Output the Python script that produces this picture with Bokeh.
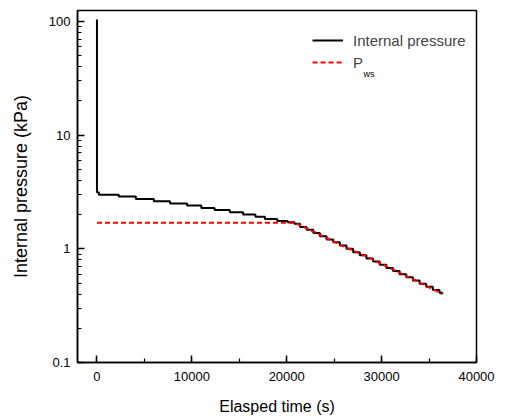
from bokeh.plotting import figure
from bokeh.models import (Range1d, SingleIntervalTicker, FixedTicker, CustomJSTickFormatter,
                          Legend, LegendItem, Label)
from bokeh.embed import file_html
from bokeh.resources import INLINE

# Internal pressure (staircase), elapsed time in s, pressure in kPa
t_int = [0, 0, 200, 2300, 4100, 6000, 7700, 9500, 11000, 12400, 14000, 15400, 16700,
         17700, 19000, 20100, 20800, 21400, 22100, 22800, 23500, 24200, 24900, 25600,
         26300, 27000, 27700, 28400, 29100, 29800, 30500, 31200, 31900, 32600, 33300,
         34000, 34700, 35400, 36100, 36400]
p_int = [104, 3.14, 2.99, 2.88, 2.75, 2.62, 2.50, 2.40, 2.29, 2.20, 2.10, 2.01, 1.92,
         1.83, 1.76, 1.71, 1.66, 1.56, 1.47, 1.38, 1.29, 1.21, 1.14, 1.07,
         1.00, 0.935, 0.878, 0.823, 0.772, 0.725, 0.680, 0.638, 0.599, 0.562, 0.527,
         0.494, 0.464, 0.435, 0.41, 0.40]

# P_ws (saturation water vapour pressure)
t_ws = [0, 20800, 21500, 22500, 24000, 26000, 28500, 31000, 33500, 36400]
p_ws = [1.70, 1.70, 1.60, 1.46, 1.27, 1.05, 0.85, 0.67, 0.53, 0.40]

x_ticks = [0, 10000, 20000, 30000, 40000]
y_ticks = [0.1, 1, 10, 100]
y_minor = [m * d for d in (0.1, 1, 10) for m in range(2, 10)]

FONT = "Liberation Sans"

p = figure(width=495, height=417, y_axis_type="log",
           x_range=Range1d(-2050, 40000), y_range=Range1d(0.1, 125),
           output_backend="svg", toolbar_location=None,
           min_border_left=77, min_border_right=19, min_border_top=10, min_border_bottom=54)

p.xgrid.visible = False
p.ygrid.visible = False
p.outline_line_color = "black"
p.outline_line_width = 1.5
p.outline_line_alpha = 1.0

p.xaxis.ticker = SingleIntervalTicker(interval=10000, num_minor_ticks=2)
p.yaxis.ticker = FixedTicker(ticks=y_ticks, minor_ticks=y_minor)
p.yaxis.formatter = CustomJSTickFormatter(code="return tick.toString();")

for ax in (p.xaxis[0], p.yaxis[0]):
    ax.axis_line_color = "black"
    ax.axis_line_width = 1.5
    ax.major_tick_in = 7
    ax.major_tick_out = 0
    ax.minor_tick_in = 4
    ax.minor_tick_out = 0
    ax.major_tick_line_width = 1.5
    ax.minor_tick_line_width = 1.2
    ax.major_tick_line_color = "black"
    ax.minor_tick_line_color = "black"
    ax.major_label_text_font = FONT
    ax.major_label_text_font_size = "13px"
    ax.major_label_text_color = "black"
    ax.axis_label_text_font = FONT
    ax.axis_label_text_font_style = "normal"
    ax.axis_label_text_color = "black"

p.xaxis.axis_label = "Elasped time (s)"
p.xaxis.axis_label_text_font_size = "16px"
p.xaxis.major_label_standoff = 9
p.xaxis.axis_label_standoff = 14
p.yaxis.axis_label = "Internal pressure (kPa)"
p.yaxis.axis_label_text_font_size = "18px"
p.yaxis.major_label_standoff = 7
p.yaxis.axis_label_standoff = 15

r_int = p.step(t_int, p_int, mode="after", line_color="black", line_width=2)
r_ws = p.line(t_ws, p_ws, line_color="#ff0000", line_width=2, line_dash="5 3")

legend = Legend(items=[LegendItem(label="Internal pressure", renderers=[r_int]),
                       LegendItem(label="P", renderers=[r_ws])],
                location=(235, 290), padding=0, margin=0, spacing=2,
                glyph_width=31, glyph_height=20, label_height=20, label_standoff=10,
                label_text_font=FONT, label_text_font_size="15px",
                border_line_alpha=0, background_fill_alpha=0)
p.add_layout(legend, "center")

sub = Label(x=286, y=284, x_units="screen", y_units="screen", text="ws",
            text_font=FONT, text_font_size="9px", text_color="black")
p.add_layout(sub)

open("out.html", "w").write(file_html(p, INLINE))
